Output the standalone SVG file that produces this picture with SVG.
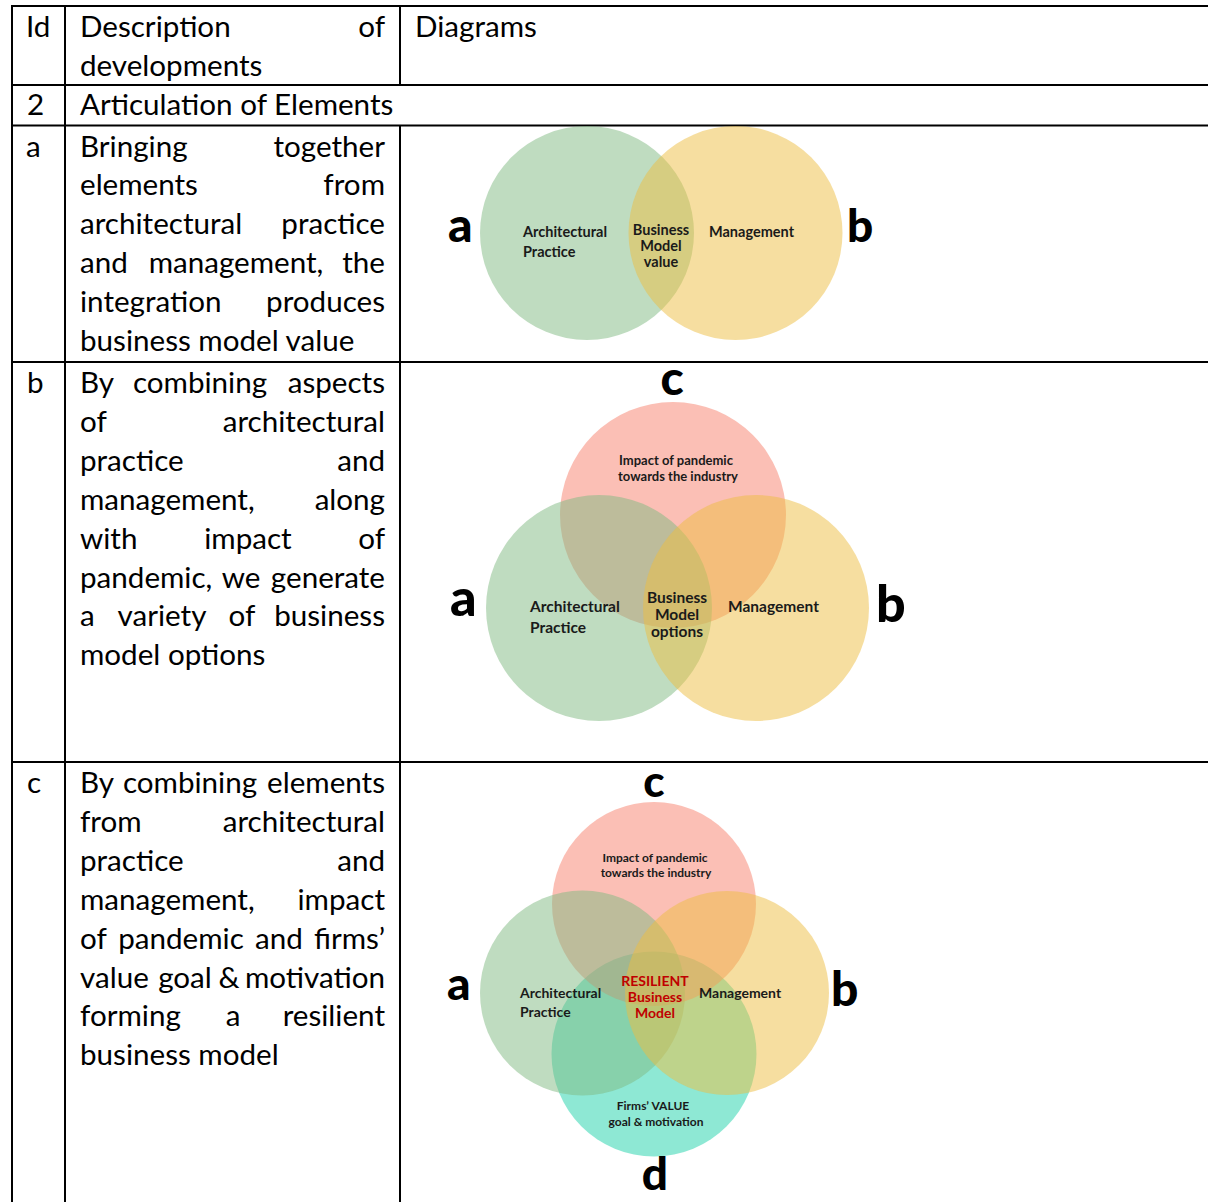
<svg xmlns="http://www.w3.org/2000/svg" width="1208" height="1202" viewBox="0 0 1208 1202">
<style>
.ln{stroke:#000;stroke-width:2;fill:none}
.tx{font-family:Lato,"Open Sans","Liberation Sans",sans-serif;font-size:29.6px;fill:#000}
.e{text-anchor:end}
.m{text-anchor:middle}
.cg{fill:rgb(127,185,129);fill-opacity:.5}
.cy{fill:rgb(237,189,65);fill-opacity:.5}
.cp{fill:rgb(247,127,107);fill-opacity:.5}
.ct{fill:rgb(30,210,170);fill-opacity:.5}
.vl{font-family:Lato,"Liberation Sans",sans-serif;font-weight:700;fill:#1a1a1a}
.big{font-family:Lato,"Liberation Sans",sans-serif;font-weight:900;fill:#000}
.red{fill:#C00000}
</style>
<rect width="1208" height="1202" fill="#fff"/>
<g id="table-grid" class="ln">
<line x1="11" y1="6" x2="1208" y2="6"/>
<line x1="11" y1="85" x2="1208" y2="85"/>
<line x1="11" y1="125.5" x2="1208" y2="125.5"/>
<line x1="11" y1="362" x2="1208" y2="362"/>
<line x1="11" y1="762" x2="1208" y2="762"/>
<line x1="12" y1="5" x2="12" y2="1202"/>
<line x1="65" y1="5" x2="65" y2="1202"/>
<line x1="400" y1="5" x2="400" y2="85"/>
<line x1="400" y1="125.5" x2="400" y2="1202"/>
</g>
<g id="header" class="tx">
<text x="26" y="37">Id</text>
<text x="80" y="37">Description</text>
<text x="385" y="37" class="e">of</text>
<text x="80" y="76">developments</text>
<text x="415" y="37">Diagrams</text>
<text x="27" y="115">2</text>
<text x="80" y="115">Articulation of Elements</text>
</g>
<g id="row-a-text" class="tx">
<text x="26" y="156.5">a</text>
<text x="80" y="156.5">Bringing</text><text x="385" y="156.5" class="e">together</text>
<text x="80" y="195.4">elements</text><text x="385" y="195.4" class="e">from</text>
<text x="80" y="234.3">architectural</text><text x="385" y="234.3" class="e">practice</text>
<text x="80" y="273.2">and</text><text x="236" y="273.2" class="m">management,</text><text x="385" y="273.2" class="e">the</text>
<text x="80" y="312.1">integration</text><text x="385" y="312.1" class="e">produces</text>
<text x="80" y="351">business model value</text>
</g>
<g id="row-b-text" class="tx">
<text x="27" y="393">b</text>
<text x="80" y="393">By</text><text x="200" y="393" class="m">combining</text><text x="385" y="393" class="e">aspects</text>
<text x="80" y="431.9">of</text><text x="385" y="431.9" class="e">architectural</text>
<text x="80" y="470.8">practice</text><text x="385" y="470.8" class="e">and</text>
<text x="80" y="509.7">management,</text><text x="385" y="509.7" class="e">along</text>
<text x="80" y="548.6">with</text><text x="248" y="548.6" class="m">impact</text><text x="385" y="548.6" class="e">of</text>
<text x="80" y="587.5">pandemic,</text><text x="241" y="587.5" class="m">we</text><text x="385" y="587.5" class="e">generate</text>
<text x="80" y="626.4">a</text><text x="162" y="626.4" class="m">variety</text><text x="242" y="626.4" class="m">of</text><text x="385" y="626.4" class="e">business</text>
<text x="80" y="665.3">model options</text>
</g>
<g id="row-c-text" class="tx">
<text x="27" y="793">c</text>
<text x="80" y="793">By</text><text x="190" y="793" class="m">combining</text><text x="385" y="793" class="e">elements</text>
<text x="80" y="831.9">from</text><text x="385" y="831.9" class="e">architectural</text>
<text x="80" y="870.8">practice</text><text x="385" y="870.8" class="e">and</text>
<text x="80" y="909.7">management,</text><text x="385" y="909.7" class="e">impact</text>
<text x="80" y="948.6">of</text><text x="181" y="948.6" class="m">pandemic</text><text x="279" y="948.6" class="m">and</text><text x="385" y="948.6" class="e">firms’</text>
<text x="80" y="987.5">value</text><text x="185" y="987.5" class="m">goal</text><text x="229" y="987.5" class="m">&amp;</text><text x="385" y="987.5" class="e">motivation</text>
<text x="80" y="1026.4">forming</text><text x="233" y="1026.4" class="m">a</text><text x="385" y="1026.4" class="e">resilient</text>
<text x="80" y="1065.3">business model</text>
</g>
<g id="venn-a">
<circle class="cg" cx="587" cy="233" r="107"/>
<circle class="cy" cx="735.5" cy="233" r="107"/>
<g class="vl" font-size="14.5">
<text x="523" y="237">Architectural</text>
<text x="523" y="257">Practice</text>
<text x="661" y="235" class="m">Business</text>
<text x="661" y="251" class="m">Model</text>
<text x="661" y="267" class="m">value</text>
<text x="709" y="237">Management</text>
</g>
<text class="big" x="448" y="242" font-size="48">a</text>
<text class="big" x="847" y="242" font-size="46">b</text>
</g>
<g id="venn-b">
<circle class="cp" cx="673" cy="515" r="113"/>
<circle class="cg" cx="599" cy="608" r="113"/>
<circle class="cy" cx="756" cy="608" r="113"/>
<g class="vl" font-size="13">
<text x="676" y="465" class="m">Impact of pandemic</text>
<text x="678" y="481" class="m">towards the industry</text>
</g>
<g class="vl" font-size="15.5">
<text x="530" y="612">Architectural</text>
<text x="530" y="633">Practice</text>
<text x="677" y="603" class="m">Business</text>
<text x="677" y="620" class="m">Model</text>
<text x="677" y="637" class="m">options</text>
<text x="728" y="612">Management</text>
</g>
<text class="big m" x="672" y="395" font-size="48">c</text>
<text class="big" x="450" y="616" font-size="52">a</text>
<text class="big" x="876" y="622" font-size="52">b</text>
</g>
<g id="venn-c">
<circle class="ct" cx="654" cy="1054" r="102.5"/>
<circle class="cp" cx="654" cy="904" r="102"/>
<circle class="cg" cx="582.5" cy="993" r="102.5"/>
<circle class="cy" cx="727" cy="993" r="102"/>
<g class="vl" font-size="12">
<text x="655" y="862" class="m">Impact of pandemic</text>
<text x="656" y="877" class="m">towards the industry</text>
<text x="653" y="1110" class="m">Firms’ VALUE</text>
<text x="656" y="1126" class="m">goal &amp; motivation</text>
</g>
<g class="vl" font-size="14">
<text x="520" y="998">Architectural</text>
<text x="520" y="1017">Practice</text>
<text x="699" y="998">Management</text>
<text x="655" y="986" class="m red">RESILIENT</text>
<text x="655" y="1002" class="m red">Business</text>
<text x="655" y="1018" class="m red">Model</text>
</g>
<text class="big m" x="654" y="797" font-size="44">c</text>
<text class="big" x="447" y="1000" font-size="46">a</text>
<text class="big" x="831" y="1006" font-size="48">b</text>
<text class="big m" x="655" y="1190" font-size="46">d</text>
</g>
</svg>
